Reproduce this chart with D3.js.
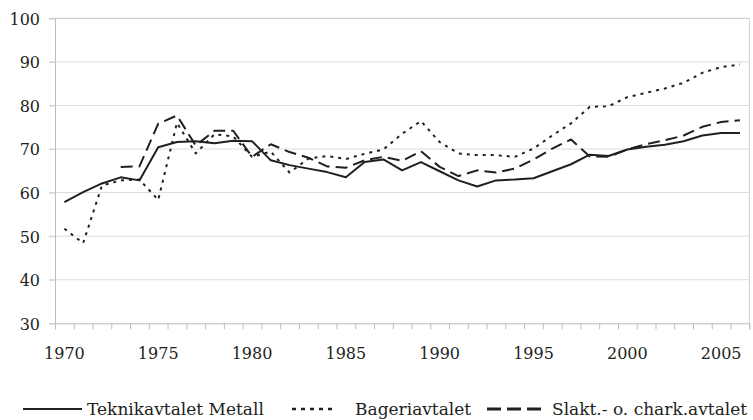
<!DOCTYPE html>
<html>
<head>
<meta charset="utf-8">
<script src="https://cdn.jsdelivr.net/npm/d3@7"></script>
<style>
  body { margin: 0; background: #fff; }
  svg { display: block; }
</style>
</head>
<body>
<svg id="chart" width="753" height="420" font-family="DejaVu Serif"></svg>
<script>
const years = d3.range(1970, 2007);

const teknikavtalet = [57.8, 60.1, 62.1, 63.5, 62.8, 70.4, 71.6, 71.8, 71.3, 71.9, 71.8,
  67.4, 66.3, 65.5, 64.7, 63.5, 67.0, 67.6, 65.1, 67.0, 64.9, 62.8, 61.4, 62.8, 63.0,
  63.3, 64.9, 66.5, 68.7, 68.4, 69.9, 70.5, 71.0, 71.8, 73.1, 73.7, 73.7];

const bageriavtalet = [51.7, 48.4, 61.6, 62.8, 63.0, 58.3, 76.0, 69.0, 73.4, 72.9, 68.2,
  69.4, 64.6, 67.8, 68.4, 67.7, 68.9, 69.9, 73.5, 76.4, 71.6, 69.0, 68.6, 68.6, 68.2,
  70.1, 73.1, 75.9, 79.7, 79.8, 81.9, 82.9, 83.9, 85.2, 87.5, 88.8, 89.4];

const slaktChark = [null, null, null, 65.9, 66.0, 75.8, 77.7, 70.8, 74.2, 74.2, 68.2,
  71.1, 69.3, 68.0, 66.0, 65.7, 67.4, 68.2, 67.3, 69.5, 65.9, 63.8, 65.1, 64.6, 65.5,
  67.6, 70.1, 72.2, 68.3, 68.2, 69.9, 71.1, 72.0, 73.1, 75.1, 76.2, 76.6];

const yTicks = [30, 40, 50, 60, 70, 80, 90, 100];
const xLabels = [1970, 1975, 1980, 1985, 1990, 1995, 2000, 2005];

const seriesNames = ["Teknikavtalet Metall", "Bageriavtalet", "Slakt.- o. chark.avtalet"];

const svg = d3.select("#chart");
const plotLeft = 55, plotRight = 749.3, plotTop = 18.3, plotBottom = 323.3;
const ink = "#231f20";
const serif = "DejaVu Serif";

const x = d3.scaleLinear().domain([1969.5, 2006.5]).range([plotLeft, plotRight]);
const y = d3.scaleLinear().domain([30, 100]).range([plotBottom, plotTop]);

// horizontal grid
svg.append("g")
  .selectAll("line")
  .data(yTicks.slice(1))
  .join("line")
  .attr("x1", plotLeft - 6).attr("x2", plotRight)
  .attr("y1", d => y(d)).attr("y2", d => y(d))
  .attr("stroke", d => d === 100 ? "#c4c4c4" : "#dcdcdc")
  .attr("stroke-width", 1);

// right border
svg.append("line")
  .attr("x1", plotRight).attr("x2", plotRight)
  .attr("y1", y(100)).attr("y2", y(30))
  .attr("stroke", "#cfcfcf");

// y axis
const yAxis = svg.append("g")
  .attr("transform", `translate(${plotLeft},0)`)
  .call(d3.axisLeft(y).tickValues(yTicks).tickSize(6).tickPadding(9));
yAxis.attr("font-family", serif).attr("font-size", 16);
yAxis.select(".domain").attr("stroke", "#bdbdbd");
yAxis.selectAll(".tick line").attr("stroke", "#cfcfcf");
yAxis.selectAll(".tick text")
  .attr("fill", ink)
  .attr("dy", "0.37em");

// x axis: ticks between the years
const boundaries = d3.range(1969.5, 2007, 1);
const xAxis = svg.append("g")
  .attr("transform", `translate(0,${plotBottom})`)
  .call(d3.axisBottom(x).tickValues(boundaries).tickSize(6).tickFormat(""));
xAxis.select(".domain").attr("stroke", "#bdbdbd");
xAxis.selectAll(".tick line").attr("stroke", "#bdbdbd");

svg.append("g")
  .attr("font-family", serif)
  .attr("font-size", 16)
  .selectAll("text")
  .data(xLabels)
  .join("text")
  .attr("x", d => x(d))
  .attr("y", 359)
  .attr("text-anchor", "middle")
  .attr("fill", ink)
  .text(d => d);

// lines
const line = d3.line()
  .defined(d => d[1] != null)
  .x(d => x(d[0]))
  .y(d => y(d[1]));

const styles = [
  { data: teknikavtalet, dash: null },
  { data: bageriavtalet, dash: "3,5" },
  { data: slaktChark, dash: "12,6" }
];

styles.forEach(s => {
  svg.append("path")
    .datum(years.map((yr, i) => [yr, s.data[i]]))
    .attr("fill", "none")
    .attr("stroke", ink)
    .attr("stroke-width", 2)
    .attr("stroke-linejoin", "round")
    .attr("stroke-dasharray", s.dash)
    .attr("d", line);
});

// legend
const legendItems = [
  { x1: 23, x2: 82, tx: 87, dash: null, w: 2 },
  { x1: 292, x2: 337, tx: 355, dash: "4,5", w: 2.5 },
  { x1: 487, x2: 546, tx: 552, dash: "14,6", w: 3 }
];

const legend = svg.append("g").attr("font-family", serif).attr("font-size", 17);
legendItems.forEach((it, i) => {
  legend.append("line")
    .attr("x1", it.x1).attr("x2", it.x2)
    .attr("y1", 409).attr("y2", 409)
    .attr("stroke", ink)
    .attr("stroke-width", it.w)
    .attr("stroke-dasharray", it.dash);
  legend.append("text")
    .attr("x", it.tx).attr("y", 415)
    .attr("fill", ink)
    .text(seriesNames[i]);
});
</script>
</body>
</html>
